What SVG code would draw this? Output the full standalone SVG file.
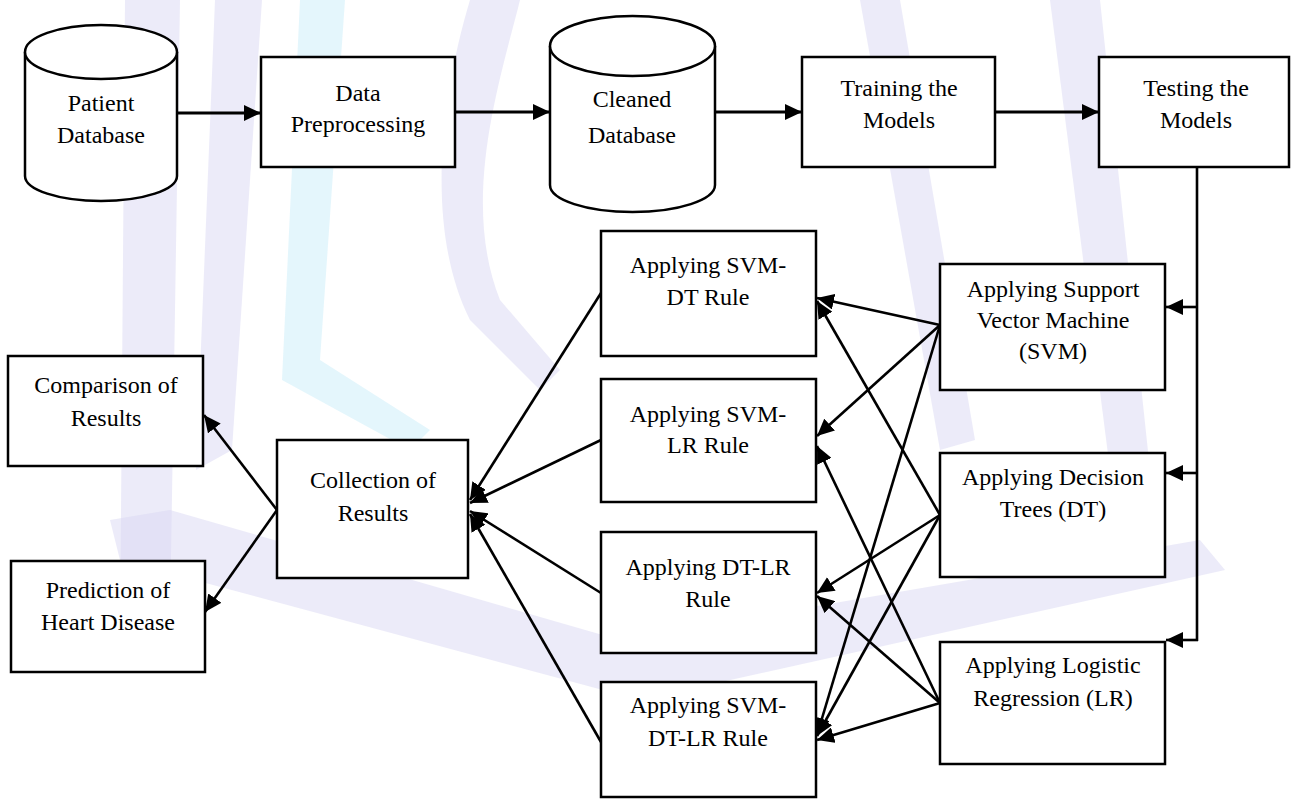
<svg xmlns="http://www.w3.org/2000/svg" width="1292" height="800" viewBox="0 0 1292 800">
  <defs>
    <style>
      .box { fill: #ffffff; stroke: #000000; stroke-width: 2.5; }
      .lbl { font-family: "Liberation Serif", "Times New Roman", serif; font-size: 24px; fill: #000000; text-anchor: middle; }
      .edge { fill: none; stroke: #000000; stroke-width: 2.6; }
      .edge-a { fill: none; stroke: #000000; stroke-width: 2.6; marker-end: url(#arrow); }
      .edge-t { fill: none; stroke: #000000; stroke-width: 3; marker-end: url(#arrow); }
      .wm-l { fill: #d9d7f3; opacity: 0.5; }
      .wm-c { fill: #cdeef9; opacity: 0.55; }
    </style>
    <marker id="arrow" markerUnits="userSpaceOnUse" markerWidth="20" markerHeight="16" refX="17" refY="8" orient="auto">
      <path d="M0,0 L17,8 L0,16 z" fill="#000000"/>
    </marker>
  </defs>

  <rect width="1292" height="800" fill="#ffffff"/>

  <!-- faint watermark behind the diagram -->
  <g id="watermark">
    <path class="wm-l" d="M125,0 L180,0 L170,620 L120,640 Z"/>
    <path class="wm-l" d="M215,0 L262,0 L232,450 L196,470 Z"/>
    <path class="wm-c" d="M300,0 L345,0 L320,360 L430,430 L410,450 L282,380 Z"/>
    <path class="wm-l" d="M470,0 L520,0 C500,80 460,200 500,300 L560,370 L540,390 L470,320 C425,230 440,100 470,0 Z"/>
    <path class="wm-l" d="M860,0 L900,0 L975,440 L940,450 Z"/>
    <path class="wm-l" d="M1050,0 L1100,0 L1150,470 L1110,470 Z"/>
    <path class="wm-l" d="M110,520 L170,510 L620,640 L1200,540 L1225,570 L640,700 L120,560 Z"/>
  </g>

  <g id="connectors">
    <line class="edge-t" x1="177" y1="113" x2="261" y2="113"/>
    <line class="edge-t" x1="455" y1="112" x2="550" y2="112"/>
    <line class="edge-t" x1="715" y1="112" x2="802" y2="112"/>
    <line class="edge-t" x1="995" y1="112" x2="1099" y2="112"/>
    <line class="edge" x1="1197" y1="167" x2="1197" y2="641"/>
    <line class="edge-a" x1="1198" y1="307" x2="1166" y2="307"/>
    <line class="edge-a" x1="1198" y1="473" x2="1166" y2="473"/>
    <line class="edge-a" x1="1198" y1="640" x2="1166" y2="640"/>

    <line class="edge-a" x1="940" y1="325" x2="817" y2="298"/>
    <line class="edge-a" x1="940" y1="325" x2="817" y2="436"/>
    <line class="edge-a" x1="940" y1="325" x2="817" y2="735"/>
    <line class="edge-a" x1="940" y1="515" x2="817" y2="301"/>
    <line class="edge-a" x1="940" y1="515" x2="817" y2="593"/>
    <line class="edge-a" x1="940" y1="515" x2="817" y2="736"/>
    <line class="edge-a" x1="940" y1="703" x2="817" y2="446"/>
    <line class="edge-a" x1="940" y1="703" x2="817" y2="596"/>
    <line class="edge-a" x1="940" y1="703" x2="817" y2="740"/>

    <line class="edge-a" x1="601" y1="293" x2="470" y2="500"/>
    <line class="edge-a" x1="601" y1="440" x2="470" y2="503"/>
    <line class="edge-a" x1="601" y1="593" x2="470" y2="511"/>
    <line class="edge-a" x1="601" y1="742" x2="470" y2="514"/>

    <line class="edge-a" x1="277" y1="510" x2="204" y2="415"/>
    <line class="edge-a" x1="277" y1="510" x2="205" y2="612"/>
  </g>

  <g id="patient-db">
    <path class="box" d="M25,52 L25,176 A76,25 0 0 0 177,176 L177,52"/>
    <ellipse class="box" cx="101" cy="52" rx="76" ry="27"/>
    <text class="lbl" x="101" y="111">Patient</text>
    <text class="lbl" x="101" y="143">Database</text>
  </g>

  <g id="data-preprocessing">
    <rect class="box" x="261" y="57" width="194" height="110"/>
    <text class="lbl" x="358" y="101">Data</text>
    <text class="lbl" x="358" y="132">Preprocessing</text>
  </g>

  <g id="cleaned-db">
    <path class="box" d="M550,46 L550,185 A82.5,27 0 0 0 715,185 L715,46"/>
    <ellipse class="box" cx="632.5" cy="46" rx="82.5" ry="30"/>
    <text class="lbl" x="632" y="107">Cleaned</text>
    <text class="lbl" x="632" y="143">Database</text>
  </g>

  <g id="training">
    <rect class="box" x="802" y="57" width="193" height="110"/>
    <text class="lbl" x="899" y="96">Training the</text>
    <text class="lbl" x="899" y="128">Models</text>
  </g>

  <g id="testing">
    <rect class="box" x="1099" y="57" width="190" height="110"/>
    <text class="lbl" x="1196" y="96">Testing the</text>
    <text class="lbl" x="1196" y="128">Models</text>
  </g>

  <g id="svm">
    <rect class="box" x="940" y="264" width="225" height="126"/>
    <text class="lbl" x="1053" y="297">Applying Support</text>
    <text class="lbl" x="1053" y="328">Vector Machine</text>
    <text class="lbl" x="1053" y="359">(SVM)</text>
  </g>

  <g id="dt">
    <rect class="box" x="940" y="453" width="225" height="124"/>
    <text class="lbl" x="1053" y="485">Applying Decision</text>
    <text class="lbl" x="1053" y="517">Trees (DT)</text>
  </g>

  <g id="lr">
    <rect class="box" x="940" y="642" width="225" height="122"/>
    <text class="lbl" x="1053" y="673">Applying Logistic</text>
    <text class="lbl" x="1053" y="706">Regression (LR)</text>
  </g>

  <g id="svm-dt-rule">
    <rect class="box" x="601" y="231" width="215" height="125"/>
    <text class="lbl" x="708" y="273">Applying SVM-</text>
    <text class="lbl" x="708" y="305">DT Rule</text>
  </g>

  <g id="svm-lr-rule">
    <rect class="box" x="601" y="379" width="215" height="123"/>
    <text class="lbl" x="708" y="422">Applying SVM-</text>
    <text class="lbl" x="708" y="453">LR Rule</text>
  </g>

  <g id="dt-lr-rule">
    <rect class="box" x="601" y="532" width="215" height="121"/>
    <text class="lbl" x="708" y="575">Applying DT-LR</text>
    <text class="lbl" x="708" y="607">Rule</text>
  </g>

  <g id="svm-dt-lr-rule">
    <rect class="box" x="601" y="682" width="215" height="115"/>
    <text class="lbl" x="708" y="713">Applying SVM-</text>
    <text class="lbl" x="708" y="746">DT-LR Rule</text>
  </g>

  <g id="collection">
    <rect class="box" x="277" y="440" width="191" height="138"/>
    <text class="lbl" x="373" y="488">Collection of</text>
    <text class="lbl" x="373" y="521">Results</text>
  </g>

  <g id="comparison">
    <rect class="box" x="8" y="356" width="195" height="110"/>
    <text class="lbl" x="106" y="393">Comparison of</text>
    <text class="lbl" x="106" y="426">Results</text>
  </g>

  <g id="prediction">
    <rect class="box" x="11" y="561" width="194" height="111"/>
    <text class="lbl" x="108" y="598">Prediction of</text>
    <text class="lbl" x="108" y="630">Heart Disease</text>
  </g>
</svg>
